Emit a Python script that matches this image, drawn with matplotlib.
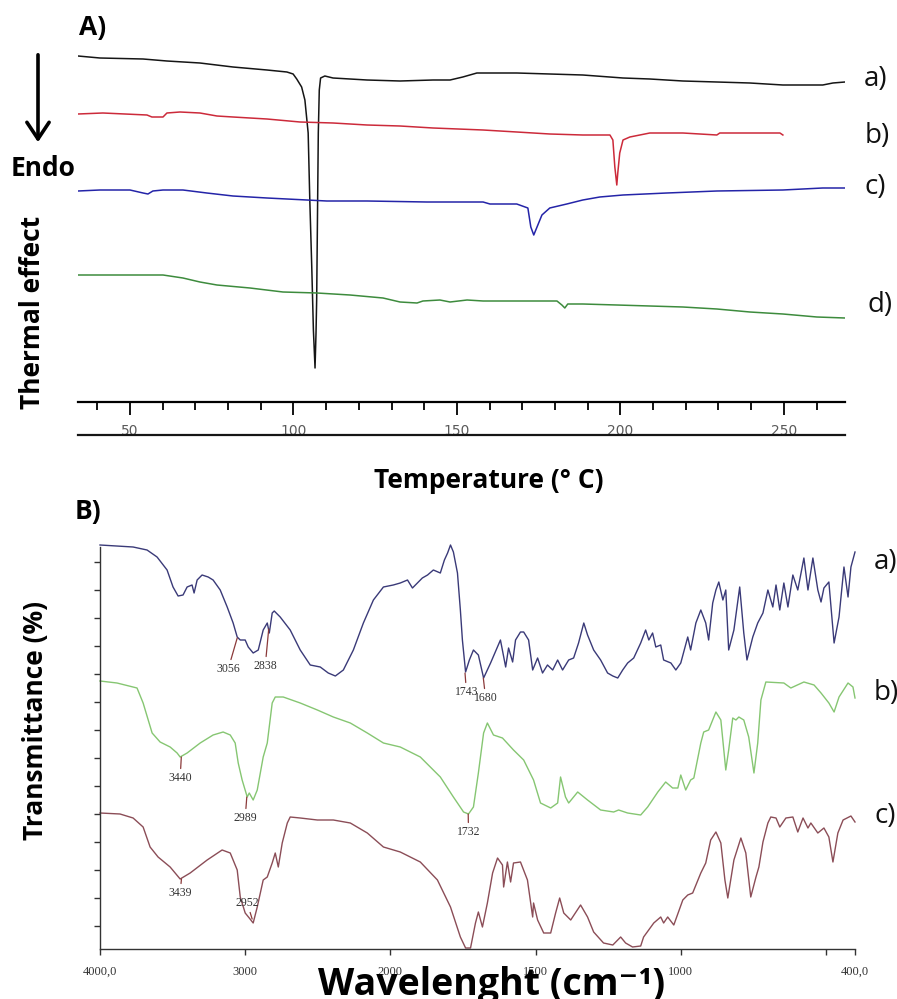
import numpy as np
import matplotlib
matplotlib.use('Agg')
import matplotlib.pyplot as plt
from matplotlib.lines import Line2D

plt.rcParams['font.family'] = ['Open Sans', 'DejaVu Sans']

# ---------------- Panel A : DSC curves (temperature in deg C, heat flow a.u.) -------------
temp_a = [34.1, 40.8, 54.0, 61.3, 71.4, 81.5, 91.9, 98.0, 99.9, 101.0, 102.5, 103.5, 104.5, 105.0,
          105.6, 106.1, 106.6, 106.9, 107.1, 107.3, 107.6, 107.9, 108.3, 109.6, 112.1, 122.5, 132.6,
          142.7, 147.9, 151.8, 156.1, 168.3, 188.5, 200.8, 209.0, 219.1, 229.5, 239.6, 249.7, 261.9,
          265.0, 268.7]
dsc_a = [34.6, 34.4, 34.3, 34.1, 33.9, 33.5, 33.2, 33.0, 32.8, 32.3, 31.5, 30.2, 26.9, 20.2,
         13.5, 7.2, 3.4, 6.9, 10.2, 16.9, 26.9, 31.2, 32.4, 32.6, 32.4, 32.2, 32.1,
         32.2, 32.2, 32.5, 32.9, 32.9, 32.7, 32.4, 32.3, 32.1, 32.0, 31.9, 31.7, 31.7,
         31.9, 32.0]

temp_b = [34.1, 41.7, 55.2, 56.7, 60.1, 61.3, 65.3, 71.4, 76.6, 81.5, 91.9, 102.0, 112.1, 122.5,
          132.6, 142.7, 158.0, 168.3, 178.4, 188.5, 196.8, 197.7, 198.3, 198.9, 199.2, 199.8, 200.8,
          202.9, 209.0, 219.1, 229.5, 230.4, 239.6, 248.8, 249.7]
dsc_b = [28.8, 28.9, 28.7, 28.5, 28.5, 28.9, 29.0, 28.9, 28.6, 28.5, 28.3, 28.0, 27.9, 27.7,
         27.6, 27.4, 27.2, 27.0, 26.8, 26.7, 26.7, 26.2, 23.5, 21.7, 22.9, 24.9, 26.2,
         26.5, 26.9, 26.9, 26.7, 26.9, 26.9, 26.9, 26.7]

temp_c = [34.1, 40.8, 50.0, 54.0, 55.5, 57.0, 60.1, 66.2, 73.5, 81.5, 91.9, 98.0, 110.2, 122.5,
          140.8, 158.0, 160.1, 168.3, 171.7, 172.6, 173.5, 174.5, 176.0, 178.4, 183.6, 188.5, 193.7,
          200.8, 214.2, 229.5, 249.7, 261.9, 268.7]
dsc_c = [21.1, 21.2, 21.2, 20.9, 20.8, 21.1, 21.2, 21.2, 20.9, 20.6, 20.4, 20.3, 20.1, 20.1,
         20.0, 20.0, 19.8, 19.8, 19.4, 17.5, 16.7, 17.5, 18.7, 19.4, 19.8, 20.2, 20.5,
         20.7, 20.9, 21.1, 21.2, 21.4, 21.4]

temp_d = [34.1, 60.1, 66.2, 71.4, 76.6, 86.7, 96.8, 107.2, 117.3, 127.4, 132.6, 137.8, 139.6, 144.8,
          147.9, 153.1, 158.0, 180.6, 182.1, 183.0, 183.9, 188.5, 198.9, 209.0, 219.1, 229.5, 239.6,
          249.7, 260.1, 268.7]
dsc_d = [12.7, 12.7, 12.4, 12.0, 11.7, 11.4, 11.0, 10.9, 10.7, 10.4, 10.0, 9.9, 10.1, 10.2,
         10.0, 10.2, 10.1, 10.1, 9.7, 9.4, 9.8, 9.8, 9.7, 9.6, 9.5, 9.3, 9.0,
         8.8, 8.5, 8.4]

dsc_labels = ['a)', 'b)', 'c)', 'd)']
temp_major = [50, 100, 150, 200, 250]

# ---------------- Panel B : FTIR spectra (wavenumber cm-1, transmittance) -----------------
wn_a = [4000, 3772, 3676, 3607, 3538, 3497, 3462, 3428, 3400, 3366,
        3352, 3331, 3297, 3255, 3221, 3172, 3124, 3083, 3055, 3034,
        3000, 2979, 2945, 2910, 2876, 2848, 2834, 2814, 2800, 2759,
        2690, 2621, 2552, 2483, 2428, 2379, 2324, 2255, 2186, 2117,
        2048, 1990, 1966, 1941, 1924, 1907, 1890, 1872, 1852, 1828,
        1814, 1803, 1793, 1783, 1769, 1759, 1752, 1741, 1728, 1714,
        1697, 1679, 1655, 1621, 1603, 1593, 1579, 1569, 1552, 1541,
        1524, 1510, 1493, 1476, 1459, 1441, 1424, 1407, 1386, 1369,
        1352, 1334, 1321, 1300, 1276, 1252, 1234, 1217, 1200, 1183,
        1162, 1138, 1121, 1110, 1097, 1086, 1069, 1059, 1034, 1017,
        1000, 976, 966, 948, 931, 914, 904, 890, 879, 869,
        855, 845, 835, 817, 797, 783, 772, 752, 735, 717,
        700, 683, 672, 659, 645, 631, 614, 597, 576, 562,
        545, 528, 517, 507, 490, 472, 455, 438, 424, 414,
        400]
tr_a = [101.0, 100.5, 99.75, 98.0, 94.75, 90.5, 88.25, 88.5, 90.5, 91.0,
        89.0, 92.25, 93.5, 93.0, 92.25, 89.75, 85.5, 81.5, 78.0, 77.25,
        77.25, 75.5, 74.0, 74.75, 79.75, 81.5, 79.0, 84.0, 84.5, 83.0,
        79.75, 74.75, 71.0, 70.5, 69.0, 68.25, 69.75, 74.75, 81.5, 87.25,
        90.5, 91.0, 91.5, 92.25, 90.25, 91.5, 92.75, 93.5, 94.75, 94.0,
        97.25, 99.0, 101.0, 99.25, 94.0, 84.75, 77.25, 69.25, 72.25, 74.75,
        73.5, 67.75, 71.5, 77.25, 70.5, 75.25, 71.75, 77.25, 79.25, 79.25,
        77.25, 69.75, 72.75, 69.0, 71.0, 69.75, 72.25, 69.75, 72.25, 72.75,
        76.5, 81.5, 78.5, 74.75, 72.25, 69.0, 68.25, 67.75, 69.75, 71.5,
        72.75, 76.5, 79.75, 77.25, 79.0, 75.5, 76.0, 72.25, 71.5, 69.75,
        71.5, 78.0, 74.75, 81.5, 84.75, 81.5, 77.25, 86.5, 89.75, 91.75,
        87.25, 89.75, 74.75, 79.75, 90.5, 79.0, 72.25, 78.0, 81.5, 84.0,
        89.75, 85.5, 91.0, 84.75, 91.5, 85.5, 93.5, 89.75, 97.75, 89.75,
        97.75, 89.75, 86.75, 90.25, 91.75, 76.5, 83.0, 95.5, 88.0, 95.5,
        99.25]

wn_b = [4000, 3883, 3745, 3703, 3641, 3586, 3517, 3469, 3448, 3400,
        3310, 3221, 3152, 3103, 3069, 3048, 3021, 2986, 2972, 2945,
        2917, 2876, 2848, 2814, 2793, 2738, 2621, 2503, 2393, 2276,
        2159, 2048, 1966, 1897, 1828, 1783, 1748, 1731, 1714, 1697,
        1679, 1666, 1645, 1614, 1576, 1541, 1507, 1483, 1448, 1424,
        1414, 1397, 1386, 1355, 1321, 1276, 1231, 1214, 1183, 1138,
        1114, 1079, 1052, 1028, 1010, 1000, 983, 966, 955, 931,
        921, 904, 879, 862, 845, 835, 821, 810, 800, 783,
        766, 748, 735, 724, 707, 645, 621, 576, 541, 517,
        490, 472, 455, 424, 407, 400]
tr_b = [67.0, 66.5, 65.25, 61.5, 54.0, 51.75, 50.5, 49.0, 48.0, 49.0,
        51.5, 53.5, 54.25, 53.5, 51.5, 46.5, 42.25, 38.0, 39.0, 37.25,
        39.75, 48.0, 51.5, 61.5, 63.0, 63.0, 61.5, 59.75, 58.0, 56.5,
        54.0, 51.5, 50.5, 48.0, 43.0, 38.0, 34.25, 33.75, 35.5, 44.0,
        54.0, 56.5, 53.5, 52.75, 49.75, 47.25, 42.25, 36.5, 35.25, 36.5,
        43.0, 38.0, 36.5, 39.25, 37.25, 34.75, 34.25, 34.75, 34.0, 33.5,
        35.5, 39.25, 41.75, 40.25, 40.25, 43.5, 39.75, 42.25, 42.75, 51.5,
        54.25, 54.75, 59.25, 57.25, 44.75, 49.75, 57.75, 57.25, 58.0, 57.25,
        53.0, 44.0, 51.5, 62.25, 66.75, 66.5, 65.25, 66.75, 66.0, 64.0,
        61.5, 59.25, 63.0, 66.5, 65.5, 62.75]

wn_c = [4000, 3862, 3772, 3703, 3655, 3600, 3517, 3448, 3379, 3262,
        3159, 3103, 3055, 3034, 3000, 2972, 2945, 2917, 2876, 2848,
        2814, 2793, 2772, 2745, 2710, 2690, 2621, 2503, 2393, 2276,
        2159, 2048, 1966, 1897, 1838, 1793, 1759, 1741, 1724, 1707,
        1697, 1683, 1666, 1648, 1631, 1614, 1610, 1597, 1586, 1576,
        1552, 1528, 1510, 1507, 1493, 1472, 1448, 1431, 1417, 1403,
        1379, 1345, 1321, 1300, 1266, 1234, 1207, 1190, 1166, 1138,
        1128, 1093, 1069, 1059, 1045, 1024, 993, 976, 959, 931,
        914, 897, 879, 862, 848, 838, 817, 793, 776, 759,
        741, 731, 717, 700, 690, 672, 659, 638, 614, 597,
        579, 562, 552, 528, 507, 490, 476, 459, 441, 414,
        400]
tr_c = [34.0, 33.75, 32.75, 30.5, 25.5, 23.0, 20.5, 17.5, 19.0, 22.25,
        24.75, 24.0, 19.75, 13.0, 9.0, 7.75, 6.5, 10.5, 17.25, 18.0,
        21.5, 24.0, 20.5, 26.5, 31.5, 33.0, 32.75, 32.25, 32.25, 31.5,
        29.0, 25.5, 24.25, 21.75, 17.25, 10.5, 3.0, 0.25, 0.25, 6.5,
        9.25, 5.5, 11.5, 19.0, 22.75, 21.0, 15.5, 21.75, 16.75, 21.5,
        21.75, 17.25, 8.0, 11.5, 7.25, 4.0, 4.0, 9.0, 12.75, 9.0,
        7.25, 11.0, 8.0, 4.25, 1.5, 1.0, 3.0, 1.5, 0.5, 0.75,
        3.0, 6.5, 8.0, 6.5, 8.0, 6.0, 12.25, 13.5, 14.0, 19.0,
        21.5, 27.25, 29.25, 26.5, 17.25, 12.75, 22.25, 27.75, 24.0, 13.0,
        18.0, 20.5, 26.75, 31.5, 33.0, 32.75, 30.5, 32.75, 33.0, 29.25,
        32.75, 30.25, 31.5, 29.0, 30.25, 28.0, 21.75, 29.0, 32.25, 33.25,
        31.75]

peak_labels = ['3056', '2838', '1743', '1680', '3440', '2989', '1732', '3439', '2952']
peak_wn     = [3055, 2838, 1743, 1680, 3440, 2989, 1732, 3439, 2952]
peak_tr     = [77.75, 80.0, 69.0, 67.75, 48.0, 38.0, 33.75, 17.5, 7.5]
label_wn    = [3117, 2862, 1738, 1672, 3448, 3000, 1731, 3448, 2986]
label_tr    = [70.0, 70.75, 64.25, 62.75, 42.75, 32.75, 29.25, 14.0, 11.5]

wn_ticks = [4000, 3000, 2000, 1500, 1000, 500, 400]
wn_ticklabels = ['4000,0', '3000', '2000', '1500', '1000', '', '400,0']
ftir_labels = ['a)', 'b)', 'c)']

# ------------------------------------------------------------------------------------------
W, H = 897, 999
fig = plt.figure(figsize=(W / 100, H / 100), dpi=100)
fig.patch.set_facecolor('white')


def fx(px):
    return px / W


def fy(py):
    return 1 - py / H


TITLE = 19

# ---------------- Panel A ----------------
axA = fig.add_axes([fx(78), fy(402), fx(845) - fx(78), fy(45) - fy(402)])
dsc_colors = ['#151515', '#cc2a3a', '#2424a8', '#3d8b3d']
for t, d, c in zip([temp_a, temp_b, temp_c, temp_d], [dsc_a, dsc_b, dsc_c, dsc_d], dsc_colors):
    axA.plot(t, d, color=c, lw=1.1)
axA.set_xlim(34.1, 268.7)
axA.set_ylim(0, 35.7)
for s in ['left', 'top', 'right']:
    axA.spines[s].set_visible(False)
axA.spines['bottom'].set_linewidth(1.6)
axA.set_yticks([])
axA.set_xticks(temp_major)
axA.set_xticks(np.arange(40, 261, 10), minor=True)
axA.tick_params(axis='x', which='major', length=9, width=1.3, direction='out', pad=7,
                labelsize=10, labelcolor='#5a5a5a')
axA.tick_params(axis='x', which='minor', length=6, width=1.3, direction='out')
for lbl in axA.get_xticklabels():
    lbl.set_family('DejaVu Sans')
# second rule under the tick labels
fig.add_artist(Line2D([fx(78), fx(845)], [fy(435), fy(435)], color='#151515', lw=1.6))

# end labels of DSC curves
for lab, (px, py) in zip(dsc_labels, [(876, 79), (877, 136), (875, 187), (880, 305)]):
    fig.text(fx(px), fy(py), lab, ha='center', va='center', fontsize=20, color='#111')

fig.text(fx(93), fy(27), 'A)', ha='center', va='center', fontsize=TITLE, fontweight='bold')
fig.text(fx(43), fy(168), 'Endo', ha='center', va='center', fontsize=TITLE, fontweight='bold')
fig.text(fx(33), fy(312), 'Thermal effect', ha='center', va='center', rotation=90,
         fontsize=TITLE, fontweight='bold')
fig.text(fx(489), fy(480), 'Temperature (° C)', ha='center', va='center', fontsize=TITLE,
         fontweight='bold')
fig.add_artist(matplotlib.patches.FancyArrowPatch(
    (fx(38), fy(52)), (fx(38), fy(145)), transform=fig.transFigure,
    arrowstyle='->,head_length=0.6,head_width=0.4', mutation_scale=20, lw=2.6, color='black'))

# ---------------- Panel B ----------------
def fwd(w):
    w = np.asarray(w, dtype=float)
    return np.where(w >= 2000, w, 2 * w - 2000)


def inv(u):
    u = np.asarray(u, dtype=float)
    return np.where(u >= 2000, u, (u + 2000) / 2)


axB = fig.add_axes([fx(100), fy(949), fx(855) - fx(100), fy(547) - fy(949)])
axB.set_xscale('function', functions=(fwd, inv))
ftir_colors = ['#3a3a78', '#86c672', '#8b4d57']
for w, t, c in zip([wn_a, wn_b, wn_c], [tr_a, tr_b, tr_c], ftir_colors):
    axB.plot(w, t, color=c, lw=1.0, clip_on=False)
axB.set_xlim(4000, 400)
axB.set_ylim(0, 100.5)
for s in ['top', 'right']:
    axB.spines[s].set_visible(False)
for s in ['left', 'bottom']:
    axB.spines[s].set_linewidth(1.0)
    axB.spines[s].set_color('#333333')
axB.set_xticks(wn_ticks)
axB.set_xticklabels(wn_ticklabels)
axB.xaxis.set_minor_locator(matplotlib.ticker.NullLocator())
axB.set_yticks(np.arange(5.75, 100, 7))
axB.set_yticklabels([])
axB.tick_params(axis='x', length=4, width=1, direction='out', pad=8, labelsize=9,
                labelcolor='#333333', color='#333333')
axB.tick_params(axis='y', length=4, width=1, direction='out', color='#333333')
for lbl in axB.get_xticklabels():
    lbl.set_family('Liberation Serif')

for lab, pw, pt, lw_, lt in zip(peak_labels, peak_wn, peak_tr, label_wn, label_tr):
    axB.annotate(lab, xy=(pw, pt), xytext=(lw_, lt), ha='center', va='center',
                 fontsize=8.5, family='Liberation Serif', color='#333333',
                 arrowprops=dict(arrowstyle='-', color='#8b3a3a', lw=0.9,
                                 shrinkA=0.5, shrinkB=0))

for lab, py in zip(ftir_labels, [562, 693, 816]):
    fig.text(fx(874), fy(py), lab, ha='left', va='center', fontsize=20, color='#111')

fig.text(fx(88), fy(512), 'B)', ha='center', va='center', fontsize=TITLE, fontweight='bold')
fig.text(fx(36), fy(721), 'Transmittance (%)', ha='center', va='center', rotation=90,
         fontsize=TITLE, fontweight='bold')
fig.text(fx(492), fy(995), 'Wavelenght (cm⁻¹)', ha='center', va='baseline', fontsize=27,
         fontweight='bold')

fig.savefig('out.png', dpi=100, facecolor='white')
